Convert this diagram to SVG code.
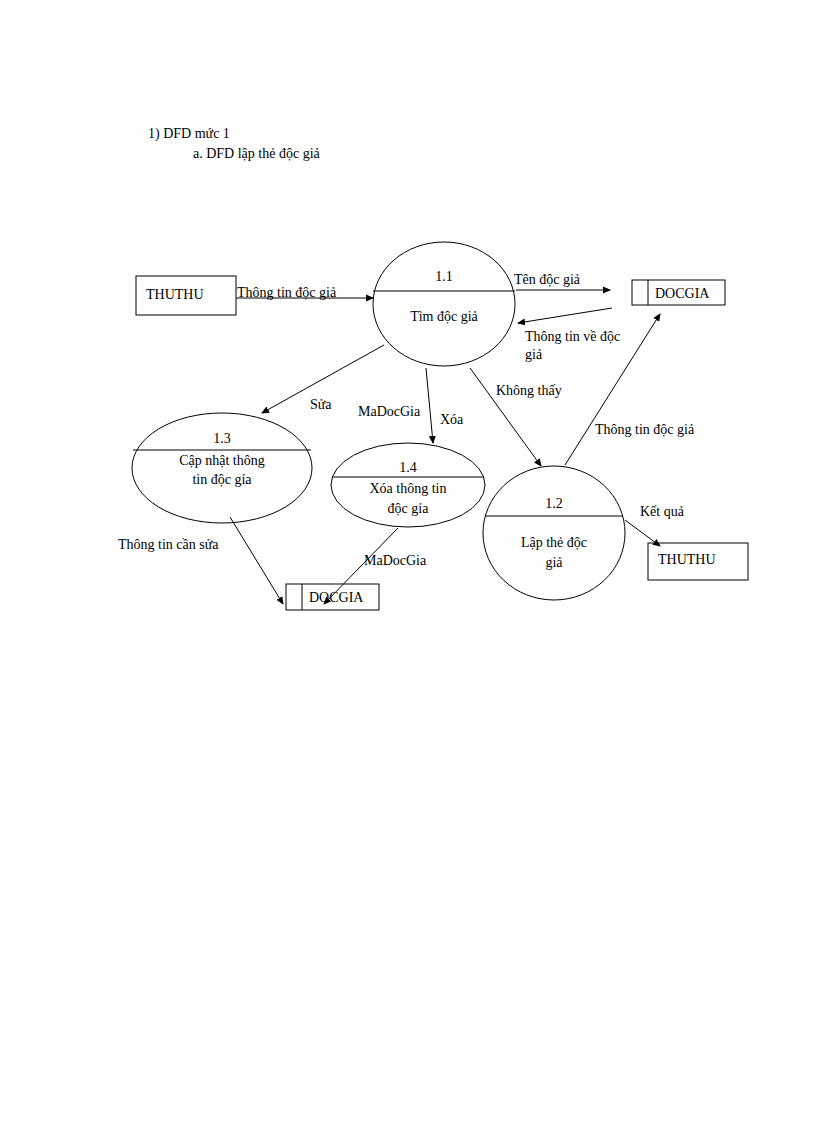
<svg xmlns="http://www.w3.org/2000/svg" width="816" height="1123" viewBox="0 0 816 1123">
<style>
text{font-family:"Liberation Serif","Times New Roman",serif;font-size:14px;fill:#000}
.s{fill:#fff;stroke:#000;stroke-width:1}
.l{stroke:#000;stroke-width:1;fill:none}
.c{stroke:#000;stroke-width:1;fill:none;marker-end:url(#a)}
.m{text-anchor:middle}
</style>
<defs>
<marker id="a" markerWidth="8" markerHeight="8" refX="7" refY="4" orient="auto" markerUnits="userSpaceOnUse"><path d="M0,0.5 L8,4 L0,7.5z" fill="#000"/></marker>
<clipPath id="c14"><ellipse cx="408" cy="485" rx="77" ry="42"/></clipPath>
</defs>
<rect width="816" height="1123" fill="#fff"/>
<text x="148" y="138">1)   DFD mức 1</text>
<text x="193" y="158">a.    DFD lập thẻ độc giả</text>
<g id="thuthu1"><rect class="s" x="136" y="276" width="100" height="39"/><text x="146" y="299">THUTHU</text></g>
<g id="p11"><ellipse class="s" cx="444" cy="304" rx="71" ry="62"/><line class="l" x1="373" y1="291" x2="515" y2="291"/><text class="m" x="444" y="281">1.1</text><text class="m" x="444" y="321">Tìm  độc giả</text></g>
<g id="docgia1"><rect class="s" x="632" y="280" width="93" height="25"/><line class="l" x1="648" y1="280" x2="648" y2="305"/><text x="655" y="298">DOCGIA</text></g>
<g id="p13"><ellipse class="s" cx="222" cy="468" rx="90" ry="55"/><line class="l" x1="133" y1="450" x2="311" y2="450"/><text class="m" x="222" y="443">1.3</text><text class="m" x="222" y="465">Cập nhật  thông</text><text class="m" x="222" y="484">tin  độc gỉa</text></g>
<g id="p14"><ellipse class="s" cx="408" cy="485" rx="77" ry="42"/><line class="l" x1="332" y1="477" x2="484" y2="477"/><text class="m" x="408" y="472">1.4</text><g clip-path="url(#c14)"><text class="m" x="408" y="493">Xóa thông  tin</text><text class="m" x="408" y="513">độc gỉa</text></g></g>
<g id="p12"><ellipse class="s" cx="554" cy="533" rx="71" ry="67"/><line class="l" x1="485" y1="516" x2="623" y2="516"/><text class="m" x="554" y="508">1.2</text><text class="m" x="554" y="547">Lập thẻ  độc</text><text class="m" x="554" y="567">giả</text></g>
<g id="thuthu2"><rect class="s" x="648" y="543" width="100" height="37"/><text x="658" y="564">THUTHU</text></g>
<g id="docgia2"><rect class="s" x="286" y="584" width="93" height="26"/><line class="l" x1="302" y1="584" x2="302" y2="610"/><text x="309" y="602">DOCGIA</text></g>
<g id="connectors">
<line class="c" x1="236" y1="298" x2="373" y2="298"/>
<line class="c" x1="516" y1="290" x2="610" y2="290"/>
<line class="c" x1="612" y1="308" x2="518" y2="323"/>
<line class="c" x1="384" y1="345" x2="262" y2="413"/>
<line class="c" x1="426" y1="368" x2="433" y2="443"/>
<line class="c" x1="470" y1="368" x2="541" y2="466"/>
<line class="c" x1="565" y1="465" x2="660" y2="314"/>
<line class="c" x1="625" y1="520" x2="660" y2="546"/>
<line class="c" x1="230" y1="517" x2="283" y2="604"/>
<line class="c" x1="398" y1="528" x2="324" y2="604"/>
</g>
<g id="labels">
<text x="237" y="297">Thông tin  độc giả</text>
<text x="514" y="284">Tên độc giả</text>
<text x="525" y="341">Thông  tin  về  độc</text>
<text x="525" y="359">giả</text>
<text x="310" y="409">Sửa</text>
<text x="358" y="416">MaDocGia</text>
<text x="440" y="424">Xóa</text>
<text x="496" y="395">Không thấy</text>
<text x="595" y="434">Thông  tin  độc giả</text>
<text x="640" y="516">Kết quả</text>
<text x="118" y="549">Thông  tin  cần sửa</text>
<text x="364" y="565">MaDocGia</text>
</g>
</svg>
